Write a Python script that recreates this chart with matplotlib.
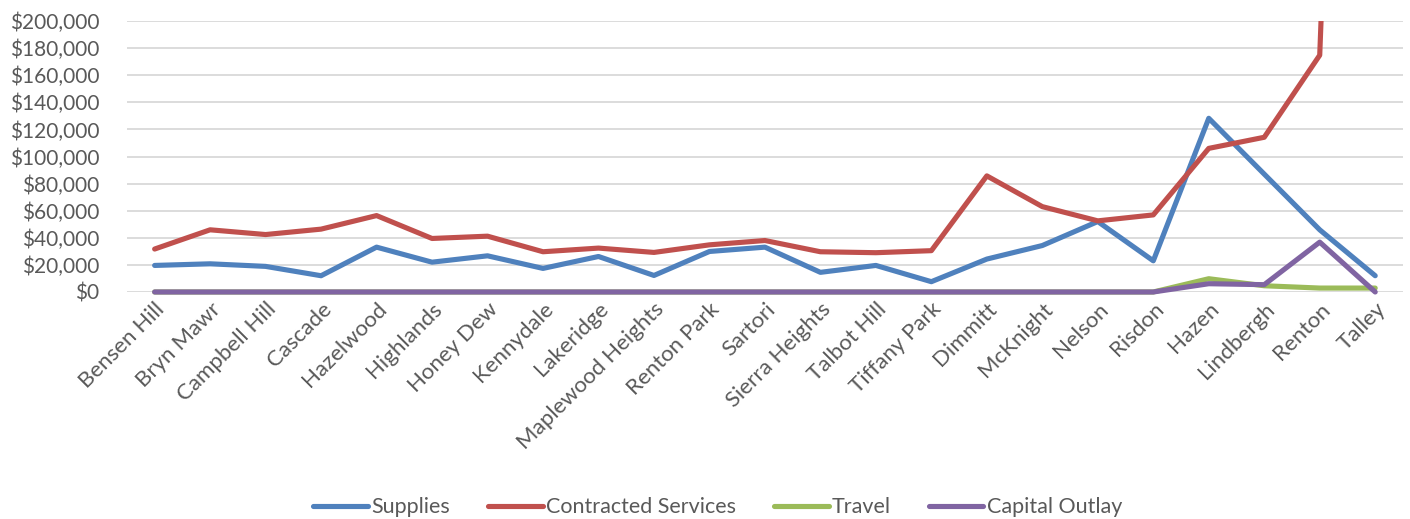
import matplotlib
matplotlib.use("Agg")
import matplotlib.pyplot as plt
from matplotlib.ticker import FuncFormatter, MultipleLocator
from matplotlib.transforms import Bbox, TransformedBbox

# Spending by location and category
locations = [
    "Bensen Hill", "Bryn Mawr", "Campbell Hill", "Cascade", "Hazelwood",
    "Highlands", "Honey Dew", "Kennydale", "Lakeridge", "Maplewood Heights",
    "Renton Park", "Sartori", "Sierra Heights", "Talbot Hill", "Tiffany Park",
    "Dimmitt", "McKnight", "Nelson", "Risdon", "Hazen", "Lindbergh",
    "Renton", "Talley",
]
supplies = [
    19600, 20800, 18900, 12000, 33100, 22000, 26700, 17400, 26200, 12200,
    29900, 33100, 14500, 19600, 7600, 24300, 34300, 52000, 23000, 128200,
    87000, 45900, 12000,
]
contracted_services = [
    31700, 45900, 42400, 46400, 56400, 39500, 41200, 29700, 32400, 29200,
    34800, 38000, 29700, 29000, 30500, 85700, 63000, 52500, 56900, 106000,
    114200, 174800, 1250000,
]
travel = [
    0, 0, 0, 0, 0, 0, 0, 0, 0, 0, 0, 0, 0, 0, 0, 0, 0, 0, 0, 9800,
    4600, 2900, 2900,
]
capital_outlay = [
    0, 0, 0, 0, 0, 0, 0, 0, 0, 0, 0, 0, 0, 0, 0, 0, 0, 0, 0, 6100,
    5400, 36800, 0,
]

series = [
    ("Supplies", supplies, "#4F81BD"),
    ("Contracted Services", contracted_services, "#C0504D"),
    ("Travel", travel, "#9BBB59"),
    ("Capital Outlay", capital_outlay, "#8064A2"),
]

plt.rcParams["font.family"] = ["Lato", "DejaVu Sans"]

fig, ax = plt.subplots(figsize=(14.1, 5.19), dpi=100)
fig.subplots_adjust(left=0.090, right=0.995, top=0.9595, bottom=0.4374)

# clip only at the top so the zero-valued lines keep their full width
clip = TransformedBbox(Bbox([[0, -0.1], [1, 1]]), ax.transAxes)

x = list(range(len(locations)))
for name, values, color in series:
    line, = ax.plot(x, values, color=color, linewidth=3.7, label=name,
                    solid_capstyle="round", solid_joinstyle="round")
    line.set_clip_box(clip)

ax.set_xlim(-0.5, len(locations) - 0.5)
ax.set_ylim(0, 200000)
ax.yaxis.set_major_locator(MultipleLocator(20000))
ax.yaxis.set_major_formatter(FuncFormatter(lambda v, _: f"${v:,.0f}"))
ax.grid(axis="y", color="#D9D9D9", linewidth=1.3)
ax.set_axisbelow(True)

ax.set_xticks(x)
ax.set_xticklabels(locations, rotation=45, ha="right", rotation_mode="anchor")
ax.tick_params(axis="y", length=0, labelsize=15, colors="#595959", pad=20)
ax.tick_params(axis="x", length=0, labelsize=16, colors="#595959", pad=5)
for spine in ax.spines.values():
    spine.set_visible(False)

fig.legend(loc="center", bbox_to_anchor=(0.509, 0.023), ncol=4,
           frameon=False, fontsize=15.5, handlelength=2.55, handletextpad=0.15,
           columnspacing=1.75, labelcolor="#595959")

fig.savefig("out.png", dpi=100)
